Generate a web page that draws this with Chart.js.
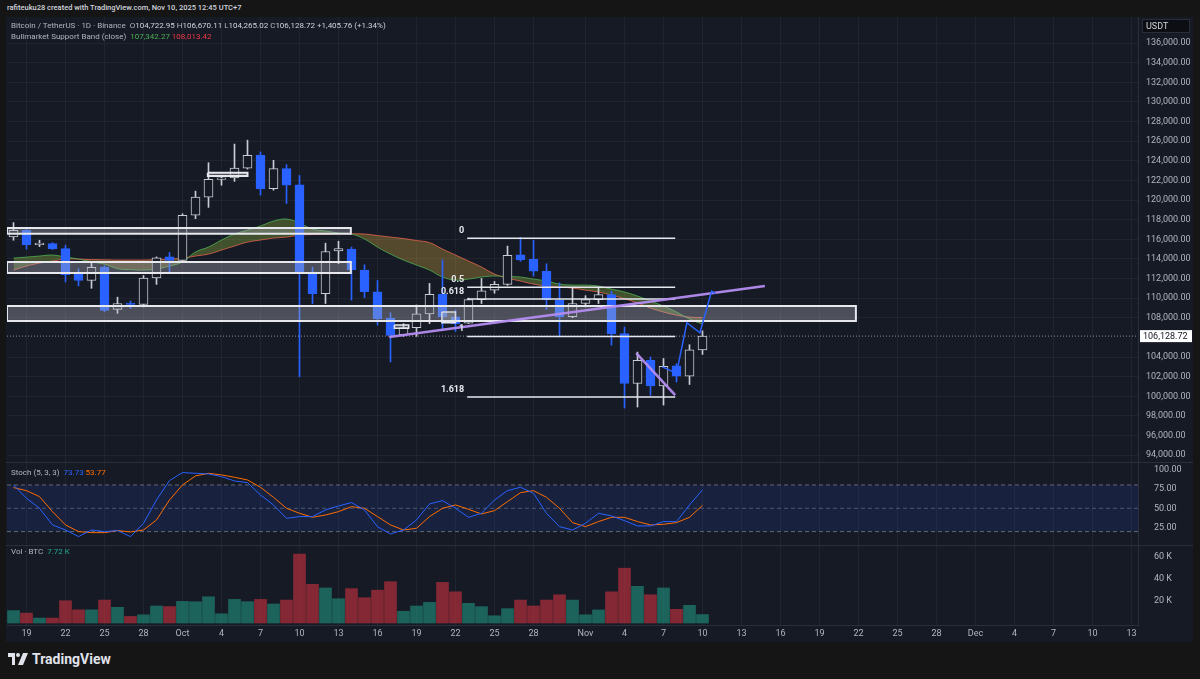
<!DOCTYPE html>
<html>
<head>
<meta charset="utf-8">
<title>BTCUSDT 1D</title>
<script src="https://cdn.jsdelivr.net/npm/chart.js"></script>
<style>
  body {
    margin: 0;
    width: 1200px;
    height: 679px;
    background: #151515;
    position: relative;
    overflow: hidden;
    font-family: Roboto, 'DejaVu Sans', sans-serif;
  }
  #title { position: absolute; left: 7px; top: 3px; font-size: 7.5px; font-weight: 500; color: #d1d4dc; }
  #frame { position: absolute; left: 6px; top: 17px; width: 1187px; height: 625px; background: #161a25; }
  canvas { position: absolute; left: 0; top: 0; }
  .legend { position: absolute; left: 5px; font-size: 8px; color: #b2b5be; white-space: pre; }
  .v { color: #d1d4dc; }
  #logo { position: absolute; left: 8px; top: 651px; display: flex; align-items: center; color: #e0e3eb; font-weight: bold; font-size: 14px; }
  #logo svg { margin-right: 4px; }
</style>
</head>
<body>

<div id="title">rafiteuku28 created with TradingView.com, Nov 10, 2025 12:45 UTC+7</div>

<div id="frame">
  <canvas id="chart" width="1187" height="625"></canvas>
  <div class="legend" id="lg1" style="top:4px"></div>
  <div class="legend" id="lg2" style="top:15px"></div>
  <div class="legend" id="lg3" style="top:451px"></div>
  <div class="legend" id="lg4" style="top:530px"></div>
</div>

<div id="logo">
  <svg width="20" height="12" viewBox="0 0 20 12"><path fill="#e0e3eb" d="M0 0h7v12H4V4H0z"/><circle fill="#e0e3eb" cx="10" cy="2" r="2"/><path fill="#e0e3eb" d="M15 0h5l-5 12h-5z"/></svg>
  TradingView
</div>

<script>
  // daily candles, Binance BTC/USDT
  const dates = ['Sep 18','Sep 19','Sep 20','Sep 21','Sep 22','Sep 23','Sep 24','Sep 25','Sep 26','Sep 27','Sep 28','Sep 29','Sep 30',
    'Oct 1','Oct 2','Oct 3','Oct 4','Oct 5','Oct 6','Oct 7','Oct 8','Oct 9','Oct 10','Oct 11','Oct 12','Oct 13','Oct 14','Oct 15','Oct 16',
    'Oct 17','Oct 18','Oct 19','Oct 20','Oct 21','Oct 22','Oct 23','Oct 24','Oct 25','Oct 26','Oct 27','Oct 28','Oct 29','Oct 30','Oct 31',
    'Nov 1','Nov 2','Nov 3','Nov 4','Nov 5','Nov 6','Nov 7','Nov 8','Nov 9','Nov 10'];
  const opens  = [116250,116900,115450,115550,115050,112450,111800,113150,108850,109500,109350,112050,114200,
    113850,118450,120300,122100,122250,123250,124550,121150,123200,121550,112650,110450,114800,115000,112850,110650,
    107950,106250,107000,108400,110400,108100,107450,109850,110800,111400,114400,113950,112750,109800,108100,
    109450,109850,110350,106400,101300,103650,101050,103100,102050,104722.95];
  const highs  = [117700,117200,115900,115650,115400,113000,113700,113300,110100,109700,112300,114200,114650,
    118600,120900,123800,122500,125700,126100,124900,124050,123600,122500,113150,115600,115800,115200,113400,111800,
    108500,107400,109300,111500,113900,108800,110000,112000,111700,115300,116200,115900,113500,111550,111000,
    110250,111150,110700,107050,104500,104000,103850,103300,105250,106670.11];
  const lows   = [115900,115000,115250,114950,111650,111250,111000,108600,108450,108950,109100,111400,112500,
    113800,118100,119250,121500,121900,123150,120500,121000,119650,102000,109450,109450,113500,109800,110050,107250,
    103500,106100,106100,107400,106700,106600,107400,109450,110500,111300,113750,112250,108850,106050,108000,
    109100,109450,105200,98800,98900,100100,99100,101450,101200,104265.02];
  const closes = [116900,115450,115550,115050,112400,111800,113150,108750,109450,109350,112050,114100,113850,
    118450,120300,122100,122200,123250,124550,121150,123200,121500,112550,110450,114750,115050,112900,110650,107900,
    106200,107000,108400,110400,108100,107400,109850,110750,111400,114350,113900,112750,109850,108100,109450,
    109850,110350,106350,101300,103650,101050,103050,102050,104720,106128.72];
  const volumesK = [11.3,9,4.5,4.5,20.3,12,12,20.9,14.3,6,7.5,15.5,15,
    19.7,19.4,23.9,8.4,21.5,19.4,21.5,17.3,20.9,62.7,35.2,31.9,22.1,31.3,23,29.9,
    37.6,10.7,15.5,18.8,37,28.4,17.9,14.9,6.6,13.1,20.9,15.5,20.9,25.7,20.9,
    7.5,11.9,28.4,49.9,33.4,25.7,31.9,12.5,16.1,7.72];

  // Bull market support band: 20W SMA and 21W EMA
  const bandSma = [114080,114180,114290,114390,114180,113980,113680,113470,113000,112910,112860,112960,113270,
    113680,114700,115200,115920,116530,116940,117350,117850,118060,117650,117040,116840,116630,116530,116020,115200,
    114490,113880,113370,112860,112150,111840,111940,112150,112250,112200,112150,111940,111740,111430,111330,
    111330,111230,110920,110620,110210,109700,109190,108580,107870,107342.27];
  const bandEma = [112860,113270,113570,113780,113980,113980,113930,113910,113880,113880,113880,113930,113980,
    114080,114290,114490,114900,115310,115710,115920,116120,116220,116430,116480,116530,116560,116560,116530,116380,
    116220,116070,115870,115660,115000,114390,113780,113170,112450,112040,111740,111430,111230,111130,111020,
    110820,110620,110310,109950,109500,108990,108580,108270,108070,108013.42];

  // Stochastic (5,3,3)
  const stochK = [80,62.9,50,28.6,22.1,13.6,22.1,20,21.3,13.6,30.7,60.7,85.6,
    95.9,95,94.1,90.7,85.1,83,67.1,54.3,37.1,39.3,39.3,47.9,53,57.3,47.9,26.4,
    17,22.1,35,55.6,59.9,50,38.4,43.6,60.7,72.7,77,69.3,43.6,26.4,22.1,
    30.7,43.6,40.1,34.1,27.3,27.3,32.9,32.9,54.3,73.73];
  const stochD = [76.6,72.7,65,45.7,28.6,20,18.7,18.7,21.3,19.6,22.1,35,60.7,
    80,91.6,95,92.9,89.9,86.4,77,64.1,50,43.6,38.4,41.4,45.7,52.1,50,39.3,
    28.6,22.1,24.3,39.3,50,54.3,48.7,42.7,47,58.6,70.1,72.7,64.1,50,31.6,
    26.4,32.9,38.4,38.4,32.9,28.6,29.4,31.6,38.4,53.77];
  const stochBands = [80, 50, 20];

  // axes
  const tickDays   = [1,4,7,10,13,16,19,22,25,28,31,34,37,40,44,47,50,53,56,59,62,65,68,71,74,77,80,83,86];
  const tickLabels = ['19','22','25','28','Oct','4','7','10','13','16','19','22','25','28','Nov','4','7','10','13','16','19','22','25','28','Dec','4','7','10','13'];
  const priceTicks = [94000,96000,98000,100000,102000,104000,108000,110000,112000,114000,116000,118000,120000,
    122000,124000,126000,128000,130000,132000,134000,136000];
  const stochTicks = [25, 50, 75, 100];
  const volTicks = [20, 40, 60];

  // drawings (day index, price)
  const rectX0     = [-0.5, -0.5, -0.5, 14.95, 29.3, 32.95];
  const rectX1     = [25.95, 25.95, 64.8, 18.0, 30.4, 34.0];
  const rectTop    = [117140, 113680, 109190, 122780, 107270, 108580];
  const rectBottom = [116560, 112560, 107660, 122440, 106930, 107500];
  const fibLabels = ['0', '0.5', '0.618', '1', '1.618'];
  const fibPrices = [116100, 111100, 109920, 106100, 99920];
  const fibX = [34.9, 50.9];
  const trendX = [28.9, 57.8], trendY = [106030, 111230];
  const wedgeX = [47.9, 50.9], wedgeY = [104400, 100120];
  const pathX = [49.9, 51.0, 51.8, 52.8, 53.7, 54.0];
  const pathY = [103000, 102350, 107490, 106470, 110700, 110450];

  const bg = '#161a25';
  const upCol = '#c9ccd4', downCol = '#2962ff';
  const gridCol = 'rgba(42,46,57,0.55)';
  const textCol = '#b2b5be';
  const lastClose = closes[closes.length - 1];
  const n = dates.length;
  const isUp = closes.map((c, i) => c >= opens[i]);
  const fmt2 = v => v.toLocaleString('en-US', {minimumFractionDigits: 2, maximumFractionDigits: 2});

  // legends built from the data
  document.getElementById('lg1').innerHTML =
    'Bitcoin / TetherUS · 1D · Binance  O<span class="v">' + fmt2(opens[n-1]) + '</span> H<span class="v">' + fmt2(highs[n-1]) +
    '</span> L<span class="v">' + fmt2(lows[n-1]) + '</span> C<span class="v">' + fmt2(lastClose) +
    '</span> <span class="v">+1,405.76 (+1.34%)</span>';
  document.getElementById('lg2').innerHTML =
    'Bullmarket Support Band (close)  <span style="color:#4caf50">' + fmt2(bandSma[n-1]) + '</span> <span style="color:#f23645">' + fmt2(bandEma[n-1]) + '</span>';
  document.getElementById('lg3').innerHTML =
    'Stoch (5, 3, 3)  <span style="color:#2962ff">' + stochK[n-1].toFixed(2) + '</span> <span style="color:#ff6d00">' + stochD[n-1].toFixed(2) + '</span>';
  document.getElementById('lg4').innerHTML =
    'Vol · BTC  <span style="color:#22ab94">' + volumesK[n-1].toFixed(2) + ' K</span>';

  const pts = (xs, ys) => xs.map((x, i) => ({x: x, y: ys[i]}));
  const series = arr => arr.map((v, i) => ({x: i, y: v}));
  const flat = (v, x0, x1) => [{x: x0, y: v}, {x: x1, y: v}];
  const lineBase = {type: 'line', pointRadius: 0, borderWidth: 1, tension: 0, fill: false};

  const datasets = [];

  // band (fill between sma and ema)
  datasets.push({...lineBase, yAxisID: 'y', data: series(bandSma), borderColor: 'rgba(76,175,80,0.8)', tension: 0.4,
    fill: {target: '+1', above: 'rgba(140,170,60,0.38)', below: 'rgba(190,150,60,0.38)'}, order: 11});
  datasets.push({...lineBase, yAxisID: 'y', data: series(bandEma), borderColor: 'rgba(242,90,80,0.8)', tension: 0.4, order: 11});

  // candles
  datasets.push({type: 'bar', yAxisID: 'y', grouped: false, barThickness: 1, order: 8,
    data: dates.map((d, i) => ({x: i, y: [lows[i], highs[i]]})),
    backgroundColor: isUp.map(u => u ? upCol : downCol)});
  datasets.push({type: 'bar', yAxisID: 'y', grouped: false, barThickness: 9, order: 7, minBarLength: 1.5,
    data: dates.map((d, i) => ({x: i, y: [opens[i], closes[i]]})),
    backgroundColor: isUp.map(u => u ? bg : downCol),
    borderColor: isUp.map(u => u ? upCol : downCol), borderWidth: 1, borderSkipped: false});

  // volume
  datasets.push({type: 'bar', yAxisID: 'yVol', grouped: false, barThickness: 12, order: 7,
    data: series(volumesK),
    backgroundColor: isUp.map(u => u ? 'rgba(34,171,148,0.5)' : 'rgba(242,54,69,0.5)')});

  // stochastic bands and lines
  datasets.push({...lineBase, yAxisID: 'yStoch', data: flat(stochBands[0], -0.5, 86.5), borderColor: 'rgba(120,123,134,0.8)',
    borderDash: [4, 3], fill: {target: '+1'}, backgroundColor: 'rgba(41,98,255,0.12)', order: 10});
  datasets.push({...lineBase, yAxisID: 'yStoch', data: flat(stochBands[2], -0.5, 86.5), borderColor: 'rgba(120,123,134,0.8)',
    borderDash: [4, 3], order: 10});
  datasets.push({...lineBase, yAxisID: 'yStoch', data: flat(stochBands[1], -0.5, 86.5), borderColor: 'rgba(120,123,134,0.6)',
    borderDash: [4, 3], order: 10});
  datasets.push({...lineBase, yAxisID: 'yStoch', data: series(stochK), borderColor: '#2962ff', order: 3});
  datasets.push({...lineBase, yAxisID: 'yStoch', data: series(stochD), borderColor: '#ff6d00', order: 3});

  // rectangles
  rectTop.forEach((t, k) => {
    const x0 = rectX0[k], x1 = rectX1[k], b = rectBottom[k];
    datasets.push({...lineBase, yAxisID: 'y', order: 5, borderColor: '#e6e8ee', borderWidth: k < 4 ? 2 : 1.5,
      backgroundColor: 'rgba(178,181,190,0.35)', fill: 'shape',
      data: pts([x0, x1, x1, x0, x0], [t, t, b, b, t])});
  });

  // fib retracement
  fibPrices.forEach(p => {
    datasets.push({...lineBase, yAxisID: 'y', order: 4, borderColor: '#e6e8ee', borderWidth: 1.5, data: flat(p, fibX[0], fibX[1])});
  });

  // last price dotted line
  datasets.push({...lineBase, yAxisID: 'y', order: 6, borderColor: 'rgba(190,193,200,0.7)', borderDash: [1, 2],
    data: flat(lastClose, -0.5, 86.5)});

  // trend lines and projected path
  datasets.push({...lineBase, yAxisID: 'y', order: 2, borderColor: 'rgba(180,140,240,0.95)', borderWidth: 2.5, data: pts(trendX, trendY)});
  datasets.push({...lineBase, yAxisID: 'y', order: 2, borderColor: 'rgba(180,140,240,0.95)', borderWidth: 2.5, data: pts(wedgeX, wedgeY)});
  datasets.push({...lineBase, yAxisID: 'y', order: 1, borderColor: '#2962ff', borderWidth: 1.5, data: pts(pathX, pathY)});

  const tickFont = {family: 'Roboto, DejaVu Sans, sans-serif', size: 9};
  // no label overflow padding, so panes sit flush with the frame
  const noPad = s => { s.paddingTop = 0; s.paddingBottom = 0; s.paddingLeft = 0; s.paddingRight = 0; };
  const yCommon = {
    position: 'right',
    stack: 'panes',
    grid: {color: gridCol, drawTicks: false},
    border: {color: '#2a2e39'},
    afterFit: s => { s.width = 55; noPad(s); }
  };

  const overlay = {
    id: 'overlay',
    afterDraw(chart) {
      const {ctx, scales} = chart;
      const x = scales.x, y = scales.y;
      ctx.save();
      // pane separators
      ctx.strokeStyle = '#2a2e39';
      ctx.lineWidth = 1;
      [scales.yStoch.top, scales.yVol.top].forEach(t => {
        ctx.beginPath();
        ctx.moveTo(0, Math.round(t) + 0.5);
        ctx.lineTo(chart.width, Math.round(t) + 0.5);
        ctx.stroke();
      });
      // fib labels
      ctx.font = 'bold 9px Roboto, DejaVu Sans, sans-serif';
      ctx.fillStyle = '#e6e8ee';
      ctx.textAlign = 'right';
      ctx.textBaseline = 'bottom';
      fibLabels.forEach((lab, k) => {
        ctx.fillText(lab, x.getPixelForValue(fibX[0]) - 3, y.getPixelForValue(fibPrices[k]) - 3);
      });
      // last price label
      const py = y.getPixelForValue(lastClose);
      ctx.fillStyle = '#ffffff';
      ctx.fillRect(y.left + 2, py - 6, 52, 12);
      ctx.fillStyle = '#131722';
      ctx.textAlign = 'left';
      ctx.textBaseline = 'middle';
      ctx.font = '9px Roboto, DejaVu Sans, sans-serif';
      ctx.fillText(fmt2(lastClose), y.left + 5, py + 0.5);
      // currency box
      ctx.fillStyle = '#0c0e14';
      ctx.fillRect(y.left + 4, 2, 48, 14);
      ctx.strokeStyle = '#2a2e39';
      ctx.strokeRect(y.left + 4.5, 2.5, 47, 13);
      ctx.fillStyle = '#d1d4dc';
      ctx.fillText('USDT', y.left + 8, 9.5);
      ctx.restore();
    }
  };

  new Chart(document.getElementById('chart').getContext('2d'), {
    type: 'bar',
    data: {datasets},
    options: {
      responsive: false,
      animation: false,
      layout: {padding: {left: 1, right: 0, top: 0, bottom: 0}},
      plugins: {legend: {display: false}, tooltip: {enabled: false}},
      scales: {
        x: {
          type: 'linear', min: -0.5, max: 86.5, offset: false,
          grid: {color: gridCol, drawTicks: false, offset: false},
          border: {color: '#2a2e39'},
          ticks: {color: textCol, font: tickFont, padding: 3, maxRotation: 0, autoSkip: false,
            callback: v => tickLabels[tickDays.indexOf(v)]},
          afterBuildTicks: s => { s.ticks = tickDays.map(v => ({value: v})); },
          afterFit: s => { s.height = 17; noPad(s); }
        },
        y: {...yCommon, stackWeight: 445, min: 93300, max: 138650,
          ticks: {color: textCol, font: tickFont, padding: 8, autoSkip: false, callback: v => fmt2(v)},
          afterBuildTicks: s => { s.ticks = priceTicks.map(v => ({value: v})); }
        },
        yStoch: {...yCommon, stackWeight: 83, min: 2.8, max: 109.5,
          grid: {display: false},
          ticks: {color: textCol, font: tickFont, padding: 8, autoSkip: false, callback: v => v.toFixed(2)},
          afterBuildTicks: s => { s.ticks = stochTicks.map(v => ({value: v})); }
        },
        yVol: {...yCommon, stackWeight: 80, min: -1.8, max: 71,
          grid: {display: false},
          ticks: {color: textCol, font: tickFont, padding: 8, autoSkip: false, callback: v => v + ' K'},
          afterBuildTicks: s => { s.ticks = volTicks.map(v => ({value: v})); }
        }
      }
    },
    plugins: [overlay]
  });
</script>
</body>
</html>
